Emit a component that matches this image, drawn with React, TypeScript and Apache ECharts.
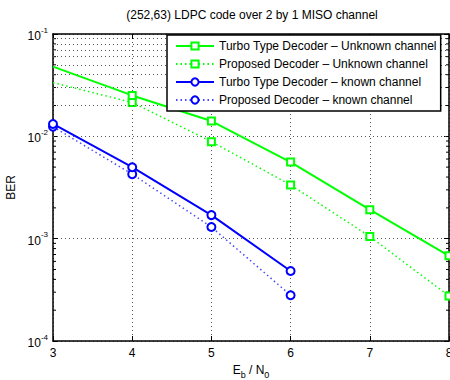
import React, { useEffect, useRef } from "react";
import * as echarts from "echarts";

const ebN0 = [3, 4, 5, 6, 7, 8];
const turboUnknown = [0.048, 0.0251, 0.0141, 0.0056, 0.00192, 0.00068];
const proposedUnknown = [0.0335, 0.0214, 0.00887, 0.00335, 0.00105, 0.000275];
const ebN0Known = [3, 4, 5, 6];
const turboKnown = [0.0132, 0.00499, 0.0017, 0.000483];
const proposedKnown = [0.0124, 0.00427, 0.0013, 0.00028];
const decades = [1e-4, 1e-3, 1e-2];
const minorMultipliers = [2, 3, 4, 5, 6, 7, 8, 9];
const seriesNames = [
  "Turbo Type Decoder \u2013 Unknown channel",
  "Proposed Decoder \u2013 Unknown channel",
  "Turbo Type Decoder \u2013 known channel",
  "Proposed Decoder \u2013 known channel",
];

const GREEN = "#00ff00";
const BLUE = "#0000ff";
const FONT = "Liberation Sans, Arial, sans-serif";
const X_MIN = 3;
const X_MAX = 8;

function toData(xs: number[], ys: number[], hideFirst: boolean) {
  return xs.map((x, i) =>
    hideFirst && i === 0 ? { value: [x, ys[i]], symbol: "none" } : { value: [x, ys[i]] }
  );
}

export default function App() {
  const ref = useRef<HTMLDivElement>(null);
  useEffect(() => {
    if (!ref.current) return;
    const chart = echarts.init(ref.current, undefined, { renderer: "svg" });
    const minorValues: number[] = [];
    decades.forEach((d) => minorMultipliers.forEach((m) => minorValues.push(d * m)));
    const minorLines = minorValues.map((v) => ({ yAxis: v }));
    const dotted = { color: "#555", width: 1, type: [1, 3] as any };
    const yLabel = (v: number) => {
      const e = Math.round(Math.log10(v));
      return "{b|10}{s|" + e + "}";
    };
    chart.setOption({
      animation: false,
      textStyle: { fontFamily: FONT },
      graphic: [
        {
          type: "text",
          x: 252,
          y: 9,
          style: {
            text: "(252,63) LDPC code over 2 by 1 MISO channel",
            textAlign: "center",
            fontSize: 12,
            fontFamily: FONT,
            fill: "#000",
          },
        },
      ],
      grid: { left: 53, right: 1, top: 34, bottom: 39, containLabel: false, outerBoundsMode: "none" },
      legend: {
        orient: "vertical",
        left: 167,
        top: 35,
        z: 20,
        padding: [5, 4, 5, 8],
        itemGap: 6,
        itemWidth: 38,
        itemHeight: 9,
        backgroundColor: "#fff",
        borderColor: "#000",
        borderWidth: 1.5,
        textStyle: { fontSize: 12, color: "#000", fontFamily: FONT },
        data: seriesNames,
      },
      xAxis: [
        {
          type: "value",
          min: X_MIN,
          max: X_MAX,
          interval: 1,
          name: "{n|E}{s|b}{n| / N}{s|0}",
          nameLocation: "middle",
          nameGap: 19,
          nameTextStyle: {
            rich: {
              n: { fontSize: 12, color: "#000", fontFamily: FONT, verticalAlign: "top", lineHeight: 16 },
              s: { fontSize: 9, color: "#000", fontFamily: FONT, verticalAlign: "bottom", lineHeight: 16, padding: [6, 0, 0, 0] },
            },
          },
          axisLine: { lineStyle: { color: "#000", width: 1.5 } },
          axisTick: { inside: true, length: 5, lineStyle: { color: "#000" } },
          axisLabel: { fontSize: 12, color: "#000", margin: 6, fontFamily: FONT },
          splitLine: { show: true, lineStyle: dotted },
        },
        {
          type: "value",
          position: "top",
          min: X_MIN,
          max: X_MAX,
          interval: 1,
          axisLine: { show: true, lineStyle: { color: "#000", width: 1.5 } },
          axisTick: { show: true, inside: true, length: 5, lineStyle: { color: "#000" } },
          axisLabel: { show: false },
          splitLine: { show: false },
        },
      ],
      yAxis: [
        {
          type: "log",
          logBase: 10,
          min: 1e-4,
          max: 1e-1,
          name: "BER",
          nameLocation: "middle",
          nameGap: 33,
          nameTextStyle: { fontSize: 12, color: "#000", fontFamily: FONT },
          axisLine: { lineStyle: { color: "#000", width: 1.5 } },
          axisTick: { inside: true, length: 5, lineStyle: { color: "#000" } },
          axisLabel: {
            margin: 5,
            formatter: yLabel,
            rich: {
              b: { fontSize: 12, color: "#000", fontFamily: FONT, verticalAlign: "bottom", lineHeight: 16 },
              s: { fontSize: 8, color: "#000", fontFamily: FONT, verticalAlign: "top", lineHeight: 16, padding: [0, 0, 6, 0] },
            },
          },
          splitLine: { show: true, lineStyle: dotted },
        },
        {
          type: "log",
          logBase: 10,
          min: 1e-4,
          max: 1e-1,
          position: "right",
          axisLine: { show: true, lineStyle: { color: "#000", width: 1.5 } },
          axisTick: { show: true, inside: true, length: 5, lineStyle: { color: "#000" } },
          axisLabel: { show: false },
          splitLine: { show: false },
        },
      ],
      series: [
        {
          type: "line",
          name: "minor-grid",
          data: [],
          silent: true,
          z: 1,
          markLine: {
            silent: true,
            symbol: "none",
            label: { show: false },
            lineStyle: { color: "#555", width: 1, type: [1, 3] },
            data: minorLines,
          },
        },
        {
          type: "custom",
          name: "minor-ticks",
          silent: true,
          z: 3,
          data: minorValues.map((v) => [X_MIN, v]),
          renderItem: (params: any, api: any) => {
            const v = api.value(1);
            const l = api.coord([X_MIN, v]);
            const r = api.coord([X_MAX, v]);
            return {
              type: "group",
              children: [
                { type: "line", shape: { x1: l[0], y1: l[1], x2: l[0] + 3, y2: l[1] }, style: { stroke: "#000", lineWidth: 1 } },
                { type: "line", shape: { x1: r[0] - 3, y1: r[1], x2: r[0], y2: r[1] }, style: { stroke: "#000", lineWidth: 1 } },
              ],
            };
          },
        },
        {
          type: "line",
          name: seriesNames[0],
          data: toData(ebN0, turboUnknown, true),
          symbol: "emptyRect",
          symbolSize: 7,
          clip: false,
          z: 5,
          lineStyle: { color: GREEN, width: 2 },
          itemStyle: { color: GREEN, borderWidth: 1.8 },
        },
        {
          type: "line",
          name: seriesNames[1],
          data: toData(ebN0, proposedUnknown, true),
          symbol: "emptyRect",
          symbolSize: 7,
          clip: false,
          z: 4,
          lineStyle: { color: GREEN, width: 1.5, type: [1.5, 3] },
          itemStyle: { color: GREEN, borderWidth: 1.8 },
        },
        {
          type: "line",
          name: seriesNames[2],
          data: toData(ebN0Known, turboKnown, false),
          symbol: "emptyCircle",
          symbolSize: 8,
          clip: false,
          z: 5,
          lineStyle: { color: BLUE, width: 2 },
          itemStyle: { color: BLUE, borderWidth: 1.8 },
        },
        {
          type: "line",
          name: seriesNames[3],
          data: toData(ebN0Known, proposedKnown, false),
          symbol: "emptyCircle",
          symbolSize: 8,
          clip: false,
          z: 4,
          lineStyle: { color: "#4848ff", width: 1.5, type: [1.5, 3] },
          itemStyle: { color: BLUE, borderWidth: 1.8 },
        },
      ],
    });
    return () => chart.dispose();
  }, []);
  return (
    <div
      ref={ref}
      style={{ position: "fixed", left: 0, top: 0, width: 450, height: 380, background: "#fff" }}
    />
  );
}
